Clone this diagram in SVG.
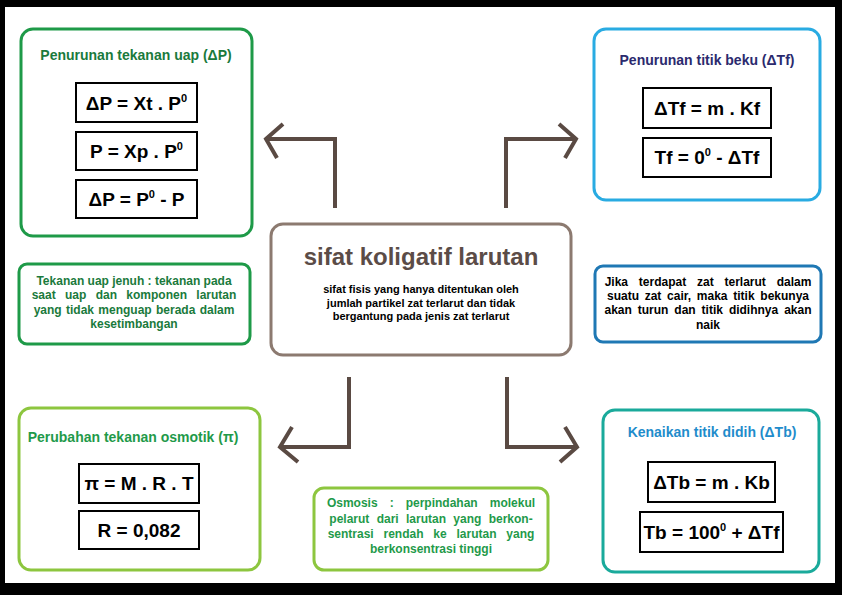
<svg xmlns="http://www.w3.org/2000/svg" width="842" height="595" viewBox="0 0 842 595">
<style>
.t{font-family:"Liberation Sans",Arial,sans-serif;font-weight:bold}
.ttl{font-size:14px}
.f{font-size:19px;fill:#000}
.sup{font-size:11px}
.p{font-size:11px}
.q{font-size:12px}
.fb{fill:#fff;stroke:#000;stroke-width:2}
.arr{fill:none;stroke:#5a4a43;stroke-width:4;stroke-linecap:butt;stroke-linejoin:miter}
</style>
<rect x="0" y="0" width="842" height="595" fill="#000"/>
<rect x="5" y="7" width="830" height="576" fill="#fff"/>

<g id="connectors">
<path class="arr" d="M335 208 V139 H266"/>
<path class="arr" d="M283 124 L266 139 L277 158"/>
<path class="arr" d="M506 208 V139 H576"/>
<path class="arr" d="M559 124 L576 139 L565 158"/>
<path class="arr" d="M349 377 V447 H280"/>
<path class="arr" d="M292 427 L280 447 L298 462"/>
<path class="arr" d="M507 377 V447 H577"/>
<path class="arr" d="M565 427 L577 447 L560 462"/>
</g>

<g id="center">
<rect x="271" y="224" width="300" height="131" rx="12" fill="#fff" stroke="#8c7a70" stroke-width="3"/>
<text class="t" x="421" y="265" text-anchor="middle" font-size="24" fill="#5b4c47">sifat koligatif larutan</text>
<text class="t p" x="421" y="293" text-anchor="middle" fill="#000">sifat fisis yang hanya ditentukan oleh</text>
<text class="t p" x="421" y="306.5" text-anchor="middle" fill="#000">jumlah partikel zat terlarut dan tidak</text>
<text class="t p" x="421" y="320" text-anchor="middle" fill="#000">bergantung pada jenis zat terlarut</text>
</g>

<g id="tekanan-uap">
<rect x="21" y="29" width="231" height="207" rx="12" fill="#fff" stroke="#1e9a48" stroke-width="3"/>
<text class="t ttl" x="136" y="60" text-anchor="middle" fill="#1a7a3c">Penurunan tekanan uap (ΔP)</text>
<rect class="fb" x="76" y="83" width="121" height="39"/>
<text class="t f" x="136.5" y="110" text-anchor="middle">ΔP = Xt . P<tspan class="sup" dy="-8">0</tspan></text>
<rect class="fb" x="76" y="132" width="121" height="38"/>
<text class="t f" x="136.5" y="158" text-anchor="middle">P = Xp . P<tspan class="sup" dy="-8">0</tspan></text>
<rect class="fb" x="76" y="180" width="121" height="38"/>
<text class="t f" x="136.5" y="206" text-anchor="middle">ΔP = P<tspan class="sup" dy="-8">0</tspan><tspan dy="8"> - P</tspan></text>
</g>

<g id="titik-beku">
<rect x="594" y="29" width="226" height="171" rx="12" fill="#fff" stroke="#29abe2" stroke-width="3"/>
<text class="t ttl" x="707" y="65" text-anchor="middle" fill="#2b2a6e">Penurunan titik beku (ΔTf)</text>
<rect class="fb" x="643" y="88" width="128" height="40"/>
<text class="t f" x="707" y="115" text-anchor="middle">ΔTf = m . Kf</text>
<rect class="fb" x="643" y="138" width="128" height="39"/>
<text class="t f" x="707" y="164" text-anchor="middle">Tf = 0<tspan class="sup" dy="-8">0</tspan><tspan dy="8"> - ΔTf</tspan></text>
</g>

<g id="tekanan-uap-jenuh">
<rect x="19" y="264" width="231" height="80" rx="8" fill="#fff" stroke="#1e9a48" stroke-width="3"/>
<text class="t q" x="134" y="285" text-anchor="middle" fill="#1a7a3c">Tekanan uap jenuh : tekanan pada</text>
<text class="t q" x="134" y="299" text-anchor="middle" fill="#1a7a3c" word-spacing="6">saat uap dan komponen larutan</text>
<text class="t q" x="134" y="314" text-anchor="middle" fill="#1a7a3c" word-spacing="1">yang tidak menguap berada dalam</text>
<text class="t q" x="134" y="328" text-anchor="middle" fill="#1a7a3c">kesetimbangan</text>
</g>

<g id="keterangan-titik">
<rect x="595" y="266" width="226" height="76" rx="8" fill="#fff" stroke="#1f78b4" stroke-width="3"/>
<text class="t q" x="708" y="286" text-anchor="middle" fill="#000" word-spacing="7.5">Jika terdapat zat terlarut dalam</text>
<text class="t q" x="708" y="300" text-anchor="middle" fill="#000" word-spacing="2.4">suatu zat cair, maka titik bekunya</text>
<text class="t q" x="708" y="314" text-anchor="middle" fill="#000" word-spacing="2.6">akan turun dan titik didihnya akan</text>
<text class="t q" x="708" y="329" text-anchor="middle" fill="#000">naik</text>
</g>

<g id="osmotik">
<rect x="19" y="408" width="241" height="162" rx="12" fill="#fff" stroke="#8dc63f" stroke-width="3"/>
<text class="t ttl" x="133" y="442" text-anchor="middle" fill="#1f9a4a">Perubahan tekanan osmotik (π)</text>
<rect class="fb" x="79" y="464" width="120" height="39"/>
<text class="t f" x="139" y="490" text-anchor="middle">π = M . R . T</text>
<rect class="fb" x="79" y="511" width="120" height="38"/>
<text class="t f" x="139" y="537" text-anchor="middle">R = 0,082</text>
</g>

<g id="osmosis">
<rect x="314" y="488" width="234" height="82" rx="10" fill="#fff" stroke="#8dc63f" stroke-width="3"/>
<text class="t q" x="431" y="507" text-anchor="middle" fill="#1f9a4a" word-spacing="8.7">Osmosis : perpindahan molekul</text>
<text class="t q" x="431" y="523" text-anchor="middle" fill="#1f9a4a" word-spacing="4">pelarut dari larutan  yang berkon-</text>
<text class="t q" x="431" y="538" text-anchor="middle" fill="#1f9a4a" word-spacing="6.5">sentrasi rendah ke larutan yang</text>
<text class="t q" x="431" y="553" text-anchor="middle" fill="#1f9a4a">berkonsentrasi tinggi</text>
</g>

<g id="titik-didih">
<rect x="603" y="410" width="216" height="162" rx="12" fill="#fff" stroke="#1aaa9b" stroke-width="3"/>
<text class="t ttl" x="712" y="437" text-anchor="middle" fill="#1f8ccb">Kenaikan titik didih (ΔTb)</text>
<rect class="fb" x="648" y="462" width="127" height="40"/>
<text class="t f" x="711.5" y="489" text-anchor="middle">ΔTb = m . Kb</text>
<rect class="fb" x="640" y="512" width="143" height="40"/>
<text class="t f" x="711.5" y="539" text-anchor="middle">Tb = 100<tspan class="sup" dy="-8">0</tspan><tspan dy="8"> + ΔTf</tspan></text>
</g>
</svg>
